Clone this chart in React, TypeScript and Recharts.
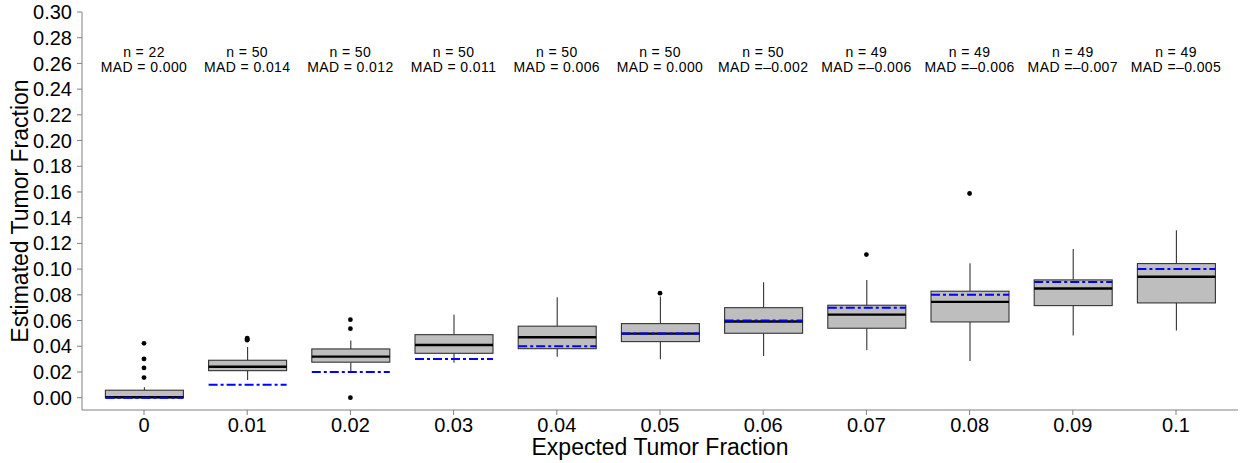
import { ComposedChart, Bar, Scatter, XAxis, YAxis, Label } from "recharts";

const FONT = "'Liberation Sans', Arial, Helvetica, sans-serif";
const AXIS_GREY = "#808080";

// expected tumour fraction (x categories)
const CATEGORIES = ["0", "0.01", "0.02", "0.03", "0.04", "0.05", "0.06", "0.07", "0.08", "0.09", "0.1"];
const EXPECTED = [0, 0.01, 0.02, 0.03, 0.04, 0.05, 0.06, 0.07, 0.08, 0.09, 0.1];

// box plot statistics
const WHISKER_LOW = [0, 0.0138, 0.0205, 0.0272, 0.0319, 0.0299, 0.0325, 0.0371, 0.0286, 0.0483, 0.0522];
const Q1 = [0, 0.021, 0.0276, 0.0345, 0.0381, 0.0436, 0.0501, 0.054, 0.0589, 0.0716, 0.0737];
const MEDIAN = [0.0003, 0.0241, 0.0319, 0.041, 0.047, 0.0498, 0.0592, 0.0646, 0.0745, 0.0849, 0.094];
const Q3 = [0.0058, 0.0291, 0.0379, 0.049, 0.0556, 0.0576, 0.07, 0.0719, 0.0828, 0.0916, 0.1043];
const WHISKER_HIGH = [0.008, 0.0395, 0.0445, 0.0644, 0.0781, 0.0786, 0.0898, 0.0916, 0.1046, 0.1157, 0.1303];
const OUTLIERS = [
  [0.0423, 0.0301, 0.0231, 0.0156],
  [0.0462, 0.0455, 0.0447],
  [0.0607, 0.0537, 0],
  [],
  [],
  [0.0813],
  [],
  [0.1113],
  [0.1588],
  [],
  [],
];

// annotations
const N_SAMPLES = [22, 50, 50, 50, 50, 50, 50, 49, 49, 49, 49];
const MAD = [0, 0.014, 0.012, 0.011, 0.006, 0, -0.002, -0.006, -0.006, -0.007, -0.005];
const ANNOT_Y = 0.265;

const Y_TICKS = [0, 0.02, 0.04, 0.06, 0.08, 0.1, 0.12, 0.14, 0.16, 0.18, 0.2, 0.22, 0.24, 0.26, 0.28, 0.3];
const Y_DOMAIN: [number, number] = [-0.0096, 0.3];

const rows = CATEGORIES.map((label, i) => ({
  label,
  range: [WHISKER_LOW[i], WHISKER_HIGH[i]],
  lo: WHISKER_LOW[i],
  q1: Q1[i],
  med: MEDIAN[i],
  q3: Q3[i],
  hi: WHISKER_HIGH[i],
  expected: EXPECTED[i],
  n: N_SAMPLES[i],
  mad: MAD[i],
  annoY: ANNOT_Y,
}));

const outlierRows = CATEGORIES.flatMap((label, i) =>
  OUTLIERS[i].map((value) => ({ label, value }))
);

function formatMad(v: number): string {
  if (v < 0) return `MAD =\u2013${Math.abs(v).toFixed(3)}`;
  return `MAD = ${v.toFixed(3)}`;
}

function BoxShape(props: any) {
  const { x, y, width, height, payload } = props;
  if (!payload) return null;
  const top = Math.min(y, y + height);
  const bottom = Math.max(y, y + height);
  const span = payload.hi - payload.lo;
  // map a value onto the pixel range the bar covers (lo..hi)
  const py = (v: number) => bottom - ((v - payload.lo) / span) * (bottom - top);
  const cx = x + width / 2;
  const boxTop = py(payload.q3);
  const boxBottom = py(payload.q1);
  return (
    <g>
      <line x1={cx} x2={cx} y1={py(payload.hi)} y2={boxTop} stroke="#333" strokeWidth={1.1} />
      <line x1={cx} x2={cx} y1={boxBottom} y2={py(payload.lo)} stroke="#333" strokeWidth={1.1} />
      <rect
        x={x}
        y={boxTop}
        width={width}
        height={Math.max(boxBottom - boxTop, 0.5)}
        fill="#bebebe"
        stroke="#333"
        strokeWidth={1.1}
      />
      <line x1={x} x2={x + width} y1={py(payload.med)} y2={py(payload.med)} stroke="#000" strokeWidth={2.4} />
      <line
        x1={x}
        x2={x + width}
        y1={py(payload.expected)}
        y2={py(payload.expected)}
        stroke="#0000ff"
        strokeWidth={2}
        strokeDasharray="9 3 3 3"
      />
    </g>
  );
}

function OutlierDot(props: any) {
  const { cx, cy } = props;
  return <circle cx={cx} cy={cy} r={2.4} fill="#000" />;
}

function AnnotationText(props: any) {
  const { cx, cy, payload } = props;
  if (!payload) return null;
  const style = { fontFamily: FONT, fontSize: 14, letterSpacing: 0.4 };
  return (
    <g>
      <text x={cx} y={cy} textAnchor="middle" fill="#000" style={style}>
        {`n = ${payload.n}`}
      </text>
      <text x={cx} y={cy + 15.5} textAnchor="middle" fill="#000" style={style}>
        {formatMad(payload.mad)}
      </text>
    </g>
  );
}

export default function App() {
  return (
    <div style={{ position: "absolute", left: 0, top: 0, background: "#fff" }}>
      <ComposedChart
        width={1241}
        height={463}
        data={rows}
        margin={{ top: 12, right: 3, left: 0, bottom: 0 }}
      >
        <XAxis
          dataKey="label"
          type="category"
          allowDuplicatedCategory={false}
          height={53}
          padding={{ left: 10.4, right: 10.4 }}
          axisLine={{ stroke: AXIS_GREY }}
          tickLine={{ stroke: AXIS_GREY }}
          tickSize={5}
          tickMargin={3}
          tick={{ fontSize: 20, fill: "#000", fontFamily: FONT }}
          interval={0}
        >
          <Label
            content={(p: any) => {
              const vb = p.viewBox;
              return (
                <text
                  x={vb.x + vb.width / 2}
                  y={vb.y + 45}
                  textAnchor="middle"
                  fill="#000"
                  style={{ fontFamily: FONT, fontSize: 23 }}
                >
                  Expected Tumor Fraction
                </text>
              );
            }}
          />
        </XAxis>
        <XAxis
          xAxisId="top"
          orientation="top"
          dataKey="label"
          allowDuplicatedCategory={false}
          height={0}
          tick={false}
          tickLine={false}
          axisLine={{ stroke: AXIS_GREY }}
        />
        <YAxis
          type="number"
          domain={Y_DOMAIN}
          ticks={Y_TICKS}
          allowDataOverflow
          width={82}
          axisLine={{ stroke: AXIS_GREY }}
          tickLine={{ stroke: AXIS_GREY }}
          tickSize={5}
          tickMargin={5}
          tickFormatter={(v: number) => v.toFixed(2)}
          tick={{ fontSize: 20, fill: "#000", fontFamily: FONT }}
          interval={0}
        >
          <Label
            content={(p: any) => {
              const vb = p.viewBox;
              const lx = vb.x + 28;
              const ly = vb.y + vb.height / 2;
              return (
                <text
                  x={lx}
                  y={ly}
                  transform={`rotate(-90, ${lx}, ${ly})`}
                  textAnchor="middle"
                  fill="#000"
                  style={{ fontFamily: FONT, fontSize: 23 }}
                >
                  Estimated Tumor Fraction
                </text>
              );
            }}
          />
        </YAxis>
        <YAxis
          yAxisId="right"
          orientation="right"
          type="number"
          domain={[0, 1]}
          width={0}
          tick={false}
          tickLine={false}
          axisLine={{ stroke: AXIS_GREY }}
        />
        <Bar dataKey="range" barSize={78} shape={BoxShape} isAnimationActive={false} />
        <Scatter data={outlierRows} dataKey="value" shape={OutlierDot} isAnimationActive={false} />
        <Scatter dataKey="annoY" shape={AnnotationText} isAnimationActive={false} />
      </ComposedChart>
    </div>
  );
}
